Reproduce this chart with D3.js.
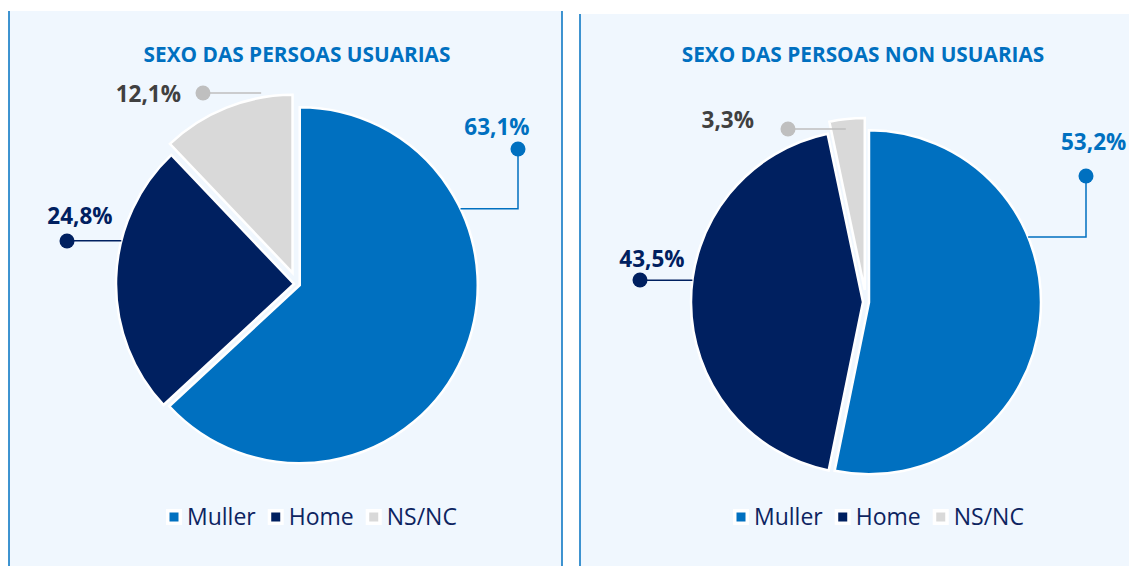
<!DOCTYPE html>
<html>
<head>
<meta charset="utf-8">
<script src="https://cdn.jsdelivr.net/npm/d3@7"></script>
<style>
  body { margin: 0; background: #fff; }
  svg { display: block; font-family: "Open Sans", sans-serif; }
</style>
</head>
<body>
<svg width="1129" height="566"></svg>
<script>
const categories = ["Muller", "Home", "NS/NC"];
const usuarias = [63.1, 24.8, 12.1];
const nonUsuarias = [53.2, 43.5, 3.3];
const titles = ["SEXO DAS PERSOAS USUARIAS", "SEXO DAS PERSOAS NON USUARIAS"];

const colors = ["#0070c0", "#002060", "#d9d9d9"];
const dotColors = ["#0070c0", "#002060", "#bfbfbf"];
const labelColors = ["#0070c0", "#002060", "#404040"];
const explode = [3, 3, 12];

const svg = d3.select("svg");
const locale = d3.formatLocale({ decimal: ",", thousands: ".", grouping: [3], currency: ["", "€"] });
const fmt = v => locale.format(".1f")(v) + "%";

// panels
const panels = [
  { x: 9, y: 11, w: 553, right: true },
  { x: 580, y: 14, w: 560, right: false }
];
panels.forEach(p => {
  svg.append("rect").attr("x", p.x).attr("y", p.y).attr("width", p.w).attr("height", 566 - p.y)
    .attr("fill", "#f0f7fe");
  svg.append("line").attr("x1", p.x).attr("x2", p.x).attr("y1", p.y).attr("y2", 566)
    .attr("stroke", "#0070c0").attr("stroke-width", 1.5);
  if (p.right) {
    svg.append("line").attr("x1", p.x + p.w).attr("x2", p.x + p.w).attr("y1", p.y).attr("y2", 566)
      .attr("stroke", "#0070c0").attr("stroke-width", 1.5);
  }
});

// layout for each pie: leader start angle (deg) and radius factor, dot and text position
const charts = [
  {
    values: usuarias, title: titles[0], cx: 297, cy: 284, r: 178, titleX: 297, legendX: 166,
    labels: [
      { angle: 64.6, rr: 1, dot: [518, 149], text: [497, 135], anchor: "middle" },
      { angle: 284, rr: 1, dot: [67, 241], text: [80, 224], anchor: "middle" },
      { angle: 350.1, rr: 1.026, dot: [203, 93], text: [181, 102], anchor: "end" }
    ]
  },
  {
    values: nonUsuarias, title: titles[1], cx: 866, cy: 302, r: 172, titleX: 863, legendX: 733,
    labels: [
      { angle: 67.7, rr: 1, dot: [1086, 176], text: [1061, 150], anchor: "start" },
      { angle: 277.3, rr: 1, dot: [640, 280], text: [652, 267], anchor: "middle" },
      { angle: 353.3, rr: 0.943, dot: [788, 129], text: [754, 128], anchor: "end" }
    ]
  }
];

const pie = d3.pie().sort(null).value(d => d);

charts.forEach(c => {
  svg.append("text")
    .attr("x", c.titleX).attr("y", 62)
    .attr("text-anchor", "middle")
    .attr("font-size", 20.8).attr("font-weight", 700)
    .attr("fill", "#0070c0")
    .text(c.title);

  const arc = d3.arc().innerRadius(0).outerRadius(c.r);
  const arcs = pie(c.values).map((a, i) => {
    const mid = (a.startAngle + a.endAngle) / 2;
    return Object.assign(a, {
      i,
      ox: c.cx + Math.sin(mid) * explode[i],
      oy: c.cy - Math.cos(mid) * explode[i]
    });
  });

  svg.append("g").selectAll("path")
    .data(arcs).join("path")
    .attr("transform", d => `translate(${d.ox},${d.oy})`)
    .attr("d", arc)
    .attr("fill", d => colors[d.i])
    .attr("stroke", "#fff")
    .attr("stroke-width", 2.5)
    .attr("stroke-linejoin", "miter");

  // leaders + labels
  arcs.forEach(a => {
    const L = c.labels[a.i];
    const t = L.angle * Math.PI / 180;
    const sx = a.ox + Math.sin(t) * c.r * L.rr;
    const sy = a.oy - Math.cos(t) * c.r * L.rr;
    const pts = [[sx, sy], [L.dot[0], sy], L.dot];
    svg.append("path")
      .attr("d", d3.line()(pts))
      .attr("fill", "none")
      .attr("stroke", dotColors[a.i])
      .attr("stroke-width", 1.5);
    svg.append("circle")
      .attr("cx", L.dot[0]).attr("cy", L.dot[1]).attr("r", 7.5)
      .attr("fill", dotColors[a.i]);
    svg.append("text")
      .attr("x", L.text[0]).attr("y", L.text[1])
      .attr("text-anchor", L.anchor)
      .attr("font-size", 22.5).attr("font-weight", 700)
      .attr("fill", labelColors[a.i])
      .text(fmt(a.data));
  });

  // legend
  const lg = svg.append("g").attr("transform", `translate(${c.legendX},517)`);
  let x = 0;
  categories.forEach((name, i) => {
    const item = lg.append("g").attr("transform", `translate(${x},0)`);
    item.append("rect").attr("x", 0).attr("y", -8).attr("width", 16).attr("height", 16).attr("fill", "#fff");
    item.append("rect").attr("x", 3.5).attr("y", -4.5).attr("width", 9).attr("height", 9).attr("fill", colors[i]);
    const txt = item.append("text")
      .attr("x", 21).attr("y", 7.5)
      .attr("font-size", 23).attr("fill", "#0d2461")
      .text(name);
    x += 21 + txt.node().getComputedTextLength() + 12;
  });
});
</script>
</body>
</html>
